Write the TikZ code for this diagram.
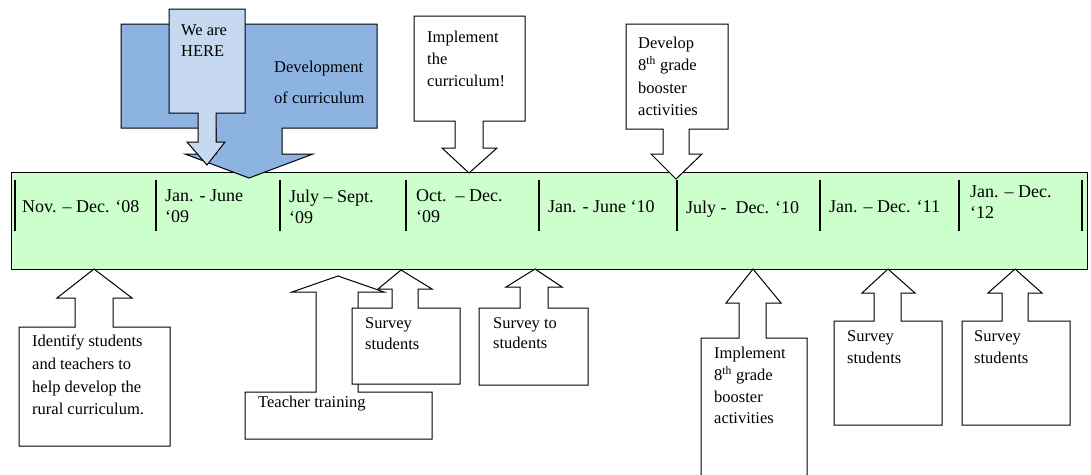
\documentclass[tikz,border=0pt]{standalone}
\usepackage{fontspec}
\setmainfont{Liberation Serif}
\definecolor{barg}{HTML}{CCFFCC}
\definecolor{devblue}{HTML}{8DB3E2}
\definecolor{hereblue}{HTML}{C6D9F1}
\tikzset{
  shapeline/.style={draw=black, line width=1pt, line join=miter},
  tltext/.style={anchor=north west, inner sep=0pt, align=left, font=\fontsize{18}{21}\selectfont},
  cotext/.style={anchor=north west, inner sep=0pt, align=left, font=\fontsize{16.5}{22}\selectfont},
  divider/.style={draw=black, line width=1.2pt}
}
\begin{document}
\begin{tikzpicture}[x=1pt,y=-1pt]
\clip (0,0) rectangle (1091,474);
\fill[white] (0,0) rectangle (1091,474);
% timeline bar
\node[shapeline, fill=barg, minimum width=1076pt, minimum height=97pt, inner sep=0pt, anchor=north west] (bar) at (11,172) {};
\foreach \x/\n in {15/dl,156/d1,280/d2,406/d3,539/d4,677/d5,820/d6,959/d7,1082/dr}{
  \coordinate (\n top) at (\x,180);
  \coordinate (\n bot) at (\x,231);
  \draw[divider] (\n top) -- (\n bot);
}
\node[tltext] (t1) at (22,200.7) {Nov. – Dec. ‘08};
\node[tltext] (t2) at (165,189.7) {Jan. - June\\‘09};
\node[tltext] (t3) at (289,189.7) {July – Sept.\\‘09};
\node[tltext] (t4) at (416,189.7) {Oct.\ \ – Dec.\\‘09};
\node[tltext] (t5) at (548,200.7) {Jan. - June ‘10};
\node[tltext] (t6) at (686,200.7) {July -\ \ Dec. ‘10};
\node[tltext] (t7) at (829,200.7) {Jan. – Dec. ‘11};
\node[tltext] (t8) at (970,186) {Jan. – Dec.\\‘12};
% callouts above
\draw[shapeline, fill=devblue] (121,24) -- (377,24) -- (377,128) -- (282,128) -- (282,154) -- (313,154) -- (249,178) -- (185,154) -- (216,154) -- (216,128) -- (121,128) -- cycle;
\draw[shapeline, fill=hereblue] (169,9) -- (245,9) -- (245,113) -- (216,113) -- (216,142) -- (225,142) -- (207,165) -- (187,142) -- (198,142) -- (198,113) -- (169,113) -- cycle;
\draw[shapeline, fill=white] (414,16) -- (525,16) -- (525,121) -- (483,121) -- (483,148) -- (497,148) -- (469,173) -- (442,148) -- (455,148) -- (455,121) -- (414,121) -- cycle;
\draw[shapeline, fill=white] (626,24) -- (728,24) -- (728,129) -- (689,129) -- (689,154) -- (702,154) -- (676,179) -- (651,154) -- (663,154) -- (663,129) -- (626,129) -- cycle;
\node[cotext, font=\fontsize{16.5}{21}\selectfont] (here) at (181,24) {We are\\HERE};
\node[cotext] (dev) at (274,61) {Development\\[9pt]of curriculum};
\node[cotext] (impl) at (427,31) {Implement\\the\\curriculum!};
\node[cotext, font=\fontsize{16.5}{22.3}\selectfont] (devb) at (638,37) {Develop\\8\textsuperscript{th} grade\\booster\\activities};
% callouts below
\draw[shapeline, fill=white] (19,327) -- (75,327) -- (75,298) -- (57,298) -- (94,269) -- (132,298) -- (113,298) -- (113,327) -- (170,327) -- (170,446) -- (19,446) -- cycle;
\draw[shapeline, fill=white] (245,392) -- (316,392) -- (316,292) -- (292,292) -- (338,276) -- (384,292) -- (358,292) -- (358,392) -- (432,392) -- (432,439) -- (245,439) -- cycle;
\draw[shapeline, fill=white] (352,308) -- (392,308) -- (392,289) -- (378,289) -- (401,270) -- (432,289) -- (418,289) -- (418,308) -- (460,308) -- (460,384) -- (352,384) -- cycle;
\draw[shapeline, fill=white] (479,308) -- (520,308) -- (520,287) -- (506,287) -- (535,269) -- (562,287) -- (548,287) -- (548,308) -- (588,308) -- (588,385) -- (479,385) -- cycle;
\draw[shapeline, fill=white] (701,338) -- (739,338) -- (739,303) -- (726,303) -- (753,269) -- (781,303) -- (766,303) -- (766,338) -- (807,338) -- (807,490) -- (701,490) -- cycle;
\draw[shapeline, fill=white] (834,321) -- (874,321) -- (874,293) -- (862,293) -- (888,269) -- (915,293) -- (901,293) -- (901,321) -- (942,321) -- (942,425) -- (834,425) -- cycle;
\draw[shapeline, fill=white] (962,321) -- (1002,321) -- (1002,293) -- (988,293) -- (1015,269) -- (1042,293) -- (1028,293) -- (1028,321) -- (1070,321) -- (1070,425) -- (962,425) -- cycle;
\node[cotext, font=\fontsize{16.5}{22.7}\selectfont] (ident) at (32,335) {Identify students\\and teachers to\\help develop the\\rural curriculum.};
\node[cotext] (teach) at (258,396) {Teacher training};
\node[cotext, font=\fontsize{16.5}{21}\selectfont] (surv1) at (365,317) {Survey\\students};
\node[cotext, font=\fontsize{16.5}{20.5}\selectfont] (surv2) at (493,317) {Survey to\\students};
\node[cotext, font=\fontsize{16.5}{21.7}\selectfont] (impb) at (714,347) {Implement\\8\textsuperscript{th} grade\\booster\\activities};
\node[cotext] (surv3) at (847,330) {Survey\\students};
\node[cotext] (surv4) at (974,330) {Survey\\students};
\end{tikzpicture}
\end{document}
